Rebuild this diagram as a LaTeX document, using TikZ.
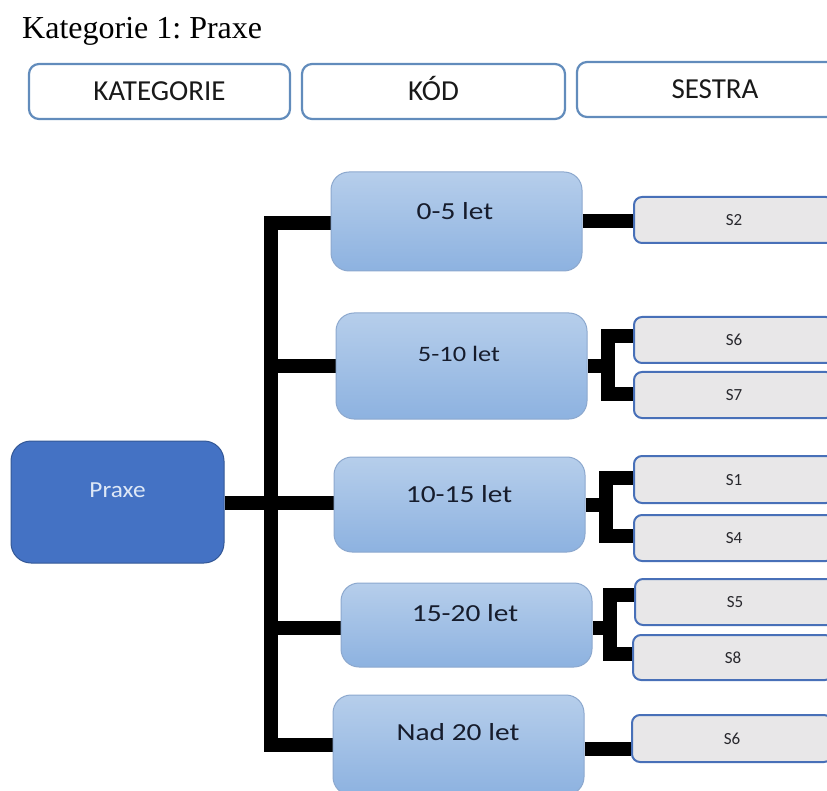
\documentclass[tikz,border=0pt]{standalone}
\usepackage{fontspec}
\usetikzlibrary{backgrounds}
\setmainfont{Liberation Serif}
\newfontfamily\boxfont{Carlito}
\newfontfamily\widefont[FakeStretch=1.2]{Carlito}
\newfontfamily\midfont[FakeStretch=1.1]{Carlito}
\frenchspacing

\definecolor{headborder}{RGB}{98,140,188}
\definecolor{rootfill}{RGB}{68,114,196}
\definecolor{rootborder}{RGB}{52,88,150}
\definecolor{roottext}{RGB}{222,232,246}
\definecolor{midtop}{RGB}{182,206,235}
\definecolor{midbottom}{RGB}{141,178,224}
\definecolor{midborder}{RGB}{140,168,206}
\definecolor{leaffill}{RGB}{232,231,232}
\definecolor{leafborder}{RGB}{72,112,184}
\definecolor{midtext}{RGB}{22,28,44}
\definecolor{leaftext}{RGB}{40,40,45}

\tikzset{
  headbox/.style={draw=headborder, line width=2.2pt, rounded corners=10pt,
    minimum height=55pt, inner sep=0pt, text height=18pt, text depth=0pt,
    font=\boxfont\fontsize{29}{34}\selectfont, text=black!90},
  rootbox/.style={draw=rootborder, line width=1pt, fill=rootfill, rounded corners=20pt,
    minimum width=213pt, minimum height=122pt, inner sep=0pt},
  midbox/.style={draw=midborder, line width=1pt, top color=midtop, bottom color=midbottom,
    rounded corners=18pt, minimum width=251pt, inner sep=0pt},
  midlabel/.style={font=\widefont\fontsize{24.5}{28}\selectfont, text=midtext, inner sep=0pt},
  leafbox/.style={draw=leafborder, line width=2pt, fill=leaffill, rounded corners=8pt,
    minimum width=200pt, inner sep=0pt, text height=11pt, text depth=0pt,
    font=\boxfont\fontsize{17}{20}\selectfont, text=leaftext},
  bar/.style={line width=14pt, line join=miter, draw=black}
}

\begin{document}
\begin{tikzpicture}[x=1pt,y=-1pt]
\useasboundingbox (0,0) rectangle (827,791);

% title
\node[anchor=base west, inner sep=0pt, font=\fontsize{32}{38}\selectfont] (title) at (22,39) {Kategorie 1: Praxe};

% column headers
\node[headbox, minimum width=261pt] (hkat) at (159.5,91.5) {KATEGORIE};
\node[headbox, minimum width=263pt] (hkod) at (433.5,91.5) {KÓD};
\node[headbox, minimum width=276pt] (hses) at (715,89.5) {SESTRA};

% root
\node[rootbox] (praxe) at (117.5,502) {};
\node[font=\midfont\fontsize{23}{27}\selectfont, text=roottext, inner sep=0pt] (praxet) at (117.5,490) {Praxe};

% age groups
\node[midbox, minimum height=99pt]  (b1) at (456.5,221.5) {};
\node[midbox, minimum height=106pt] (b2) at (461.5,366) {};
\node[midbox, minimum height=95pt]  (b3) at (459.5,504.5) {};
\node[midbox, minimum height=84pt]  (b4) at (466.5,625) {};
\node[midbox, minimum height=100pt] (b5) at (458.5,745) {};

\node[midlabel] (t1) at (455,211) {0-5 let};
\node[midlabel, font=\widefont\fontsize{22}{26}\selectfont] (t2) at (459,354) {5-10 let};
\node[midlabel] (t3) at (459,494) {10-15 let};
\node[midlabel] (t4) at (465,613) {15-20 let};
\node[midlabel] (t5) at (458,732) {Nad 20 let};

% nurses
\node[leafbox, minimum height=46pt] (s2)  at (734,220)   {S2};
\node[leafbox, minimum height=46pt] (s6a) at (734,340)   {S6};
\node[leafbox, minimum height=46pt] (s7)  at (734,395)   {S7};
\node[leafbox, minimum height=47pt] (s1)  at (734,479.5) {S1};
\node[leafbox, minimum height=46pt] (s4)  at (734,538)   {S4};
\node[leafbox, minimum height=46pt] (s5)  at (735,602)   {S5};
\node[leafbox, minimum height=45pt] (s8)  at (733,657.5) {S8};
\node[leafbox, minimum height=47pt] (s6b) at (732,738.5) {S6};

% fork points
\coordinate (bus) at (270.5,0);
\coordinate (f2t) at (608,336);  \coordinate (f2b) at (608,394);
\coordinate (f3t) at (606,478);  \coordinate (f3b) at (606,536);
\coordinate (f4t) at (610,595);  \coordinate (f4b) at (610,654);

\begin{pgfonlayer}{background}
  % trunk from the root to the age groups
  \draw[bar] ([yshift=-1pt]praxe.east) -- ([yshift=-1pt]praxe.east -| b3.west);
  \draw[bar] ([yshift=-1.5pt]b1.west) -- ([yshift=-1.5pt]b1.west -| bus) -- (b5.west -| bus) -- (b5.west);
  \draw[bar] (b2.west -| bus) -- (b2.west);
  \draw[bar] ([yshift=-3pt]b4.west -| bus) -- ([yshift=-3pt]b4.west);
  % single branches
  \draw[bar] (b1.east) -- (b1.east -| s2.west);
  \draw[bar] ([yshift=-4pt]b5.east) -- ([yshift=-4pt]b5.east -| s6b.west);
  % forks
  \draw[bar] (b2.east) -- (b2.east -| f2t);
  \draw[bar] (f2t -| s6a.west) -- (f2t) -- (f2b) -- (f2b -| s7.west);
  \draw[bar] (b3.east) -- (b3.east -| f3t);
  \draw[bar] (f3t -| s1.west) -- (f3t) -- (f3b) -- (f3b -| s4.west);
  \draw[bar] ([yshift=-3pt]b4.east) -- ([yshift=-3pt]b4.east -| f4t);
  \draw[bar] (f4t -| s5.west) -- (f4t) -- (f4b) -- (f4b -| s8.west);
\end{pgfonlayer}
\end{tikzpicture}
\end{document}
